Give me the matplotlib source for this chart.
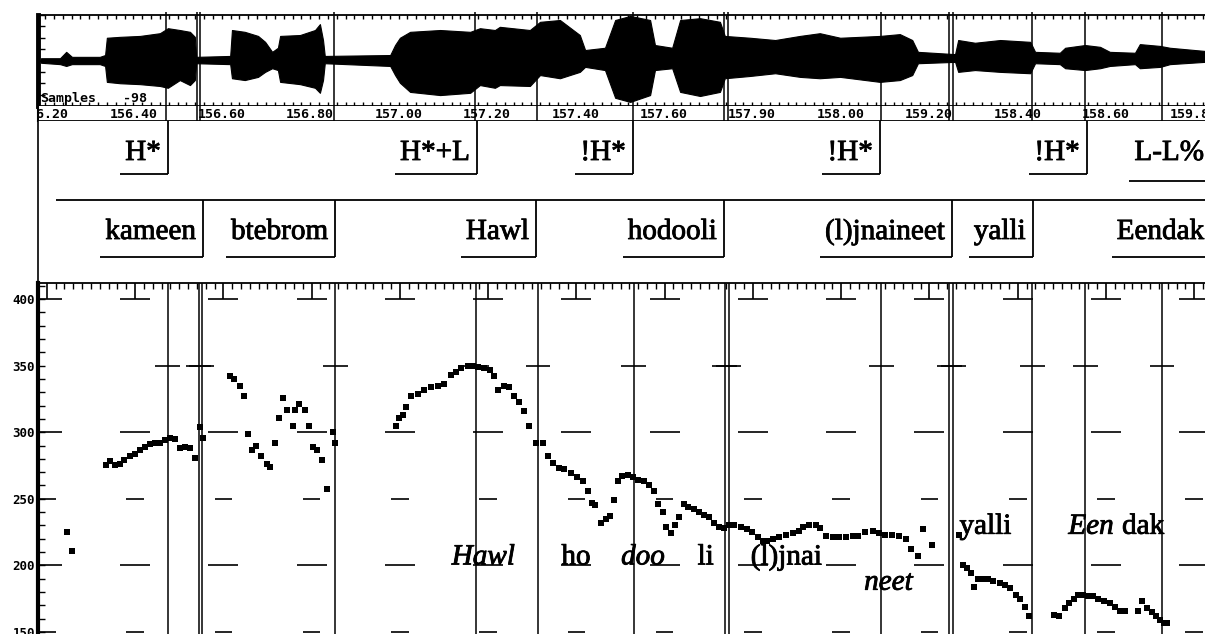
import numpy as np
import matplotlib.pyplot as plt
import matplotlib.patheffects as pe

W, H = 1205, 634
fig = plt.figure(figsize=(W / 100, H / 100), dpi=100)


def px_axes(x0, y0, x1, y1):
    # axes placed by pixel box (y measured from the top)
    return fig.add_axes([x0 / W, 1 - y1 / H, (x1 - x0) / W, (y1 - y0) / H])


# visible time window (s)
T0, T1 = 156.1842, 158.8244

# waveform envelope (time s, upper / lower amplitude)
wave_t = [156.191, 156.234, 156.248, 156.261, 156.324, 156.336, 156.340, 156.370,
          156.415, 156.460, 156.478, 156.505, 156.528, 156.539, 156.542, 156.619,
          156.623, 156.652, 156.682, 156.698, 156.714, 156.727, 156.732, 156.777,
          156.811, 156.822, 156.829, 156.833, 156.981, 156.992, 157.003, 157.026,
          157.094, 157.162, 157.184, 157.218, 157.229, 157.297, 157.320, 157.365,
          157.410, 157.422, 157.467, 157.490, 157.524, 157.569, 157.580, 157.619,
          157.637, 157.682, 157.727, 157.738, 157.795, 157.852, 157.908, 157.953,
          157.999, 158.089, 158.134, 158.162, 158.175, 158.259, 158.266, 158.304,
          158.361, 158.429, 158.440, 158.496, 158.508, 158.553, 158.587, 158.609,
          158.666, 158.677, 158.723, 158.745, 158.824]
wave_hi = [0.05, 0.05, 0.19, 0.08, 0.08, 0.12, 0.50, 0.52,
           0.54, 0.60, 0.71, 0.67, 0.63, 0.52, 0.08, 0.10,
           0.67, 0.63, 0.54, 0.41, 0.19, 0.28, 0.54, 0.56,
           0.67, 0.80, 0.45, 0.10, 0.12, 0.34, 0.50, 0.63,
           0.67, 0.63, 0.71, 0.67, 0.74, 0.67, 0.85, 0.89,
           0.56, 0.23, 0.28, 0.89, 0.98, 0.89, 0.34, 0.28,
           0.89, 0.93, 0.85, 0.54, 0.50, 0.45, 0.54, 0.60,
           0.50, 0.54, 0.58, 0.45, 0.19, 0.14, 0.45, 0.39,
           0.45, 0.41, 0.19, 0.17, 0.28, 0.34, 0.30, 0.19,
           0.17, 0.36, 0.32, 0.28, 0.21]
wave_lo = [-0.05, -0.08, -0.12, -0.08, -0.08, -0.12, -0.47, -0.50,
           -0.52, -0.56, -0.60, -0.43, -0.54, -0.43, -0.06, -0.08,
           -0.39, -0.43, -0.36, -0.25, -0.17, -0.21, -0.47, -0.52,
           -0.60, -0.71, -0.43, -0.06, -0.12, -0.32, -0.49, -0.69,
           -0.76, -0.71, -0.54, -0.60, -0.54, -0.56, -0.32, -0.39,
           -0.25, -0.14, -0.21, -0.82, -0.91, -0.76, -0.21, -0.17,
           -0.69, -0.78, -0.69, -0.39, -0.34, -0.28, -0.36, -0.39,
           -0.36, -0.47, -0.43, -0.32, -0.06, -0.03, -0.25, -0.21,
           -0.25, -0.28, -0.06, -0.08, -0.17, -0.21, -0.17, -0.12,
           -0.08, -0.17, -0.14, -0.08, -0.03]

# time axis labels as printed
strip_ticks = np.arange(156.2, 158.81, 0.2)
strip_labels = ["156.20", "156.40", "156.60", "156.80", "157.00", "157.20", "157.40",
                "157.60", "157.90", "158.00", "159.20", "158.40", "158.60", "159.80"]

# segment marks (s)
marks = [156.474, 156.544, 156.551, 156.854, 157.173, 157.313, 157.530, 157.736,
         157.745, 158.091, 158.245, 158.254, 158.433, 158.553, 158.727]

# tone tier
tone_labels = ["H*", "H*+L", "!H*", "!H*", "!H*", "L-L%"]
tone_bounds = [156.478, 157.177, 157.530, 158.089, 158.557, 158.838]

# word tier
word_labels = ["kameen", "btebrom", "Hawl", "hodooli", "(l)jnaineet", "yalli", "Eendak"]
word_bounds = [156.557, 156.856, 157.311, 157.736, 158.252, 158.435, 158.838]

# F0 track (time s, Hz)
f0_t = [156.245, 156.257,
        156.333, 156.343, 156.354, 156.365, 156.376, 156.388, 156.399, 156.410,
        156.422, 156.433, 156.444, 156.456, 156.467, 156.478, 156.490, 156.501,
        156.514, 156.524, 156.535, 156.546, 156.553,
        156.614, 156.623, 156.637, 156.646, 156.655, 156.666, 156.675, 156.686,
        156.698, 156.705, 156.716, 156.727, 156.736, 156.745, 156.757, 156.763,
        156.772, 156.784, 156.793, 156.804, 156.813, 156.824, 156.836, 156.849,
        156.854,
        156.992, 156.999, 157.008, 157.014, 157.026, 157.042, 157.055, 157.071,
        157.087, 157.100, 157.116, 157.128, 157.139, 157.155, 157.166, 157.177,
        157.191, 157.205, 157.214, 157.223, 157.236, 157.248, 157.259, 157.270,
        157.281, 157.293, 157.309, 157.324, 157.336, 157.347, 157.361, 157.372,
        157.388, 157.401, 157.415, 157.426, 157.435, 157.442, 157.456, 157.467,
        157.476, 157.485, 157.494, 157.503, 157.517, 157.528, 157.539, 157.553,
        157.564, 157.576, 157.585, 157.596, 157.603, 157.614, 157.623, 157.632,
        157.643, 157.652, 157.666, 157.677, 157.689, 157.700, 157.711, 157.723,
        157.734, 157.745, 157.757, 157.772, 157.786, 157.799, 157.811, 157.822,
        157.833, 157.845, 157.858, 157.874, 157.890, 157.904, 157.913, 157.926,
        157.942, 157.953, 157.965, 157.981, 157.994, 158.010, 158.026, 158.039,
        158.055, 158.071, 158.085, 158.100, 158.116, 158.130, 158.146, 158.159,
        158.173, 158.186, 158.205,
        158.266, 158.277, 158.286, 158.295, 158.300, 158.311, 158.322, 158.333,
        158.345, 158.361, 158.372, 158.383, 158.395, 158.406, 158.417, 158.426,
        158.483, 158.494, 158.508, 158.517, 158.528, 158.537, 158.548, 158.560,
        158.571, 158.582, 158.596, 158.609, 158.621, 158.632, 158.643, 158.673,
        158.682, 158.693, 158.705, 158.714, 158.723, 158.732, 158.738]
f0_hz = [225, 211,
         275, 278, 275, 276, 279, 282, 284, 287,
         289, 291, 292, 292, 294, 296, 295, 288,
         289, 288, 281, 304, 296,
         342, 340, 335, 327, 299, 287, 290, 282,
         276, 274, 292, 311, 326, 317, 305, 317,
         321, 317, 305, 289, 287, 279, 257, 300,
         292,
         305, 311, 313, 319, 327, 329, 332, 334,
         335, 336, 343, 345, 348, 350, 350, 349,
         348, 347, 342, 332, 335, 334, 327, 323,
         316, 305, 292, 292, 282, 277, 273, 272,
         269, 266, 263, 256, 247, 245, 232, 235,
         237, 249, 263, 267, 268, 266, 264, 263,
         260, 256, 246, 240, 229, 224, 230, 236,
         246, 244, 242, 240, 238, 236, 232, 229,
         228, 230, 230, 229, 227, 225, 221, 218,
         218, 220, 221, 223, 224, 226, 229, 230,
         230, 228, 222, 221, 221, 221, 222, 222,
         225, 226, 224, 223, 223, 222, 220, 212,
         207, 227, 215,
         223, 200, 198, 194, 184, 190, 190, 190,
         188, 187, 185, 183, 178, 175, 169, 162,
         163, 162, 168, 172, 175, 178, 178, 177,
         177, 175, 173, 172, 169, 166, 166, 166,
         173, 168, 165, 162, 159, 157, 157]

# syllable labels inside the F0 panel
syl_labels = ["Hawl", "ho", "doo", "li", "(l)jnai", "neet", "yalli", "Een", "dak"]
syl_t = [157.189, 157.399, 157.551, 157.693, 157.876, 158.107, 158.327, 158.566, 158.684]
syl_hz = [206, 206, 206, 206, 206, 187, 229, 229, 229]
italic_syl = {"Hawl", "doo", "neet", "Een"}

serif = "Liberation Serif"
heavy = [pe.withStroke(linewidth=0.6, foreground="black")]
mono = dict(family="DejaVu Sans Mono", weight="bold", size=9.5)

# ---- waveform ----
ax_w = px_axes(38, 15, 1205, 106)
ax_w.fill_between(wave_t, wave_lo, wave_hi, color="black", lw=0.8)
ax_w.axhline(0, color="black", lw=1.2)
ax_w.vlines(marks, -1, 1.07, color="black", lw=1.1, clip_on=False)
ax_w.set_xlim(T0, T1)
ax_w.set_ylim(-1, 1)
ax_w.spines["right"].set_visible(False)
ax_w.spines["left"].set_linewidth(3.5)
ax_w.spines["top"].set_linewidth(1.3)
ax_w.spines["bottom"].set_linewidth(1.3)
ax_w.set_xticks(np.arange(156.2, 158.82, 0.02))
ax_w.set_yticks(np.arange(-1, 1.01, 0.25))
ax_w.tick_params(axis="x", top=True, bottom=True, direction="in", length=3,
                 width=1, labelbottom=False)
ax_w.tick_params(axis="y", direction="in", length=5, width=1, labelleft=False)
ax_w.text(156.1887, -0.84, "Samples", va="center", ha="left", **mono)
ax_w.text(156.3765, -0.84, "-98", va="center", ha="left", **mono)

# ---- time labels strip ----
ax_s = px_axes(38, 106, 1205, 121)
ax_s.set_xlim(T0, T1)
ax_s.set_ylim(0, 1)
ax_s.vlines(marks, 0, 1, color="black", lw=1.1)
for t, lab in zip(strip_ticks, strip_labels):
    ax_s.text(t, 0.45, lab, ha="center", va="center", clip_on=True, **mono)
ax_s.set_xticks([])
ax_s.set_yticks([])
for s in ["top", "right"]:
    ax_s.spines[s].set_visible(False)
ax_s.spines["bottom"].set_linewidth(1.3)
ax_s.spines["left"].set_linewidth(1.5)

# ---- label tiers ----
ax_t = px_axes(38, 121, 1205, 283)
ax_t.set_xlim(T0, T1)
ax_t.set_ylim(283, 121)
ax_t.set_xticks([])
ax_t.set_yticks([])
for s in ["top", "right", "bottom"]:
    ax_t.spines[s].set_visible(False)
ax_t.spines["left"].set_linewidth(1.2)

gap = 0.016
tone_txt = []
for lab, b in zip(tone_labels, tone_bounds):
    tone_txt.append(ax_t.text(b - gap, 153, lab, ha="right", va="center",
                              family=serif, size=21, path_effects=heavy))
    ax_t.vlines(b, 121, 174, color="black", lw=1.3)

ax_t.hlines(200, 156.225, T1 + 0.1, color="black", lw=1.3)
word_txt = []
for lab, b in zip(word_labels, word_bounds):
    word_txt.append(ax_t.text(b - gap, 232, lab, ha="right", va="center",
                              family=serif, size=21, path_effects=heavy))
    ax_t.vlines(b, 200, 257, color="black", lw=1.3)

fig.canvas.draw()
rend = fig.canvas.get_renderer()
inv = ax_t.transData.inverted()
for txt, b in zip(tone_txt, tone_bounds):
    x0 = inv.transform((txt.get_window_extent(rend).x0 - 5, 0))[0]
    uy = 181 if b > T1 else 174
    ax_t.hlines(uy, x0, b, color="black", lw=1.3)
for txt, b in zip(word_txt, word_bounds):
    x0 = inv.transform((txt.get_window_extent(rend).x0 - 5, 0))[0]
    ax_t.hlines(257, x0, b, color="black", lw=1.3)

# ---- F0 panel ----
ax_p = px_axes(38, 283, 1205, 634)
ax_p.set_xlim(T0, T1)
ax_p.set_ylim(148.5, 412)
ax_p.vlines(marks, 148.5, 412, color="black", lw=1.1)
major = np.arange(156.2, 158.82, 0.2)
for lev in [400, 300, 200]:
    ax_p.hlines(np.full(len(major), lev), major - 0.034, major + 0.034,
                color="black", lw=1.2)
for lev in [250, 150]:
    ax_p.hlines(np.full(len(major), lev), major - 0.02, major + 0.02,
                color="black", lw=1.2)
mk = np.array(marks)
ax_p.hlines(np.full(len(mk), 350), mk - 0.028, mk + 0.028, color="black", lw=1.2)
ax_p.plot(f0_t, f0_hz, "s", color="black", ms=4.2, mew=0)

for lab, t, hz in zip(syl_labels, syl_t, syl_hz):
    ax_p.text(t, hz, lab, ha="center", va="center", family=serif, size=21,
              style="italic" if lab in italic_syl else "normal", path_effects=heavy)

ax_p.spines["right"].set_visible(False)
ax_p.spines["bottom"].set_visible(False)
ax_p.spines["left"].set_linewidth(3)
ax_p.spines["top"].set_linewidth(1.3)
ax_p.set_xticks(major)
ax_p.set_xticks(np.arange(156.18, 158.83, 0.02), minor=True)
ax_p.tick_params(axis="x", which="major", top=True, bottom=False, direction="in",
                 length=11.5, width=1.2, labelbottom=False)
ax_p.tick_params(axis="x", which="minor", top=True, bottom=False, direction="in",
                 length=4, width=1)
ax_p.set_yticks(np.arange(150, 401, 50))
ax_p.set_yticks(np.arange(150, 411, 10), minor=True)
ax_p.tick_params(axis="y", which="both", direction="in", length=5, width=1, pad=2)
for lab in ax_p.get_yticklabels():
    lab.set_fontfamily("DejaVu Sans Mono")
    lab.set_fontweight("bold")
    lab.set_fontsize(9)

fig.savefig("out.png", dpi=100)
